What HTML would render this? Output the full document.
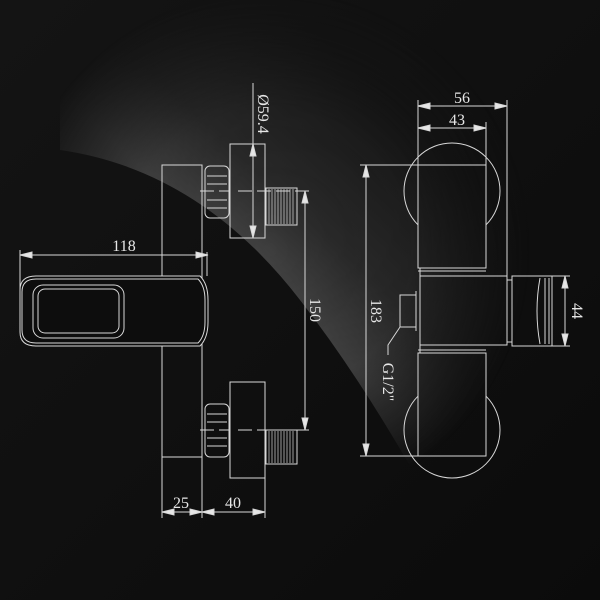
<!DOCTYPE html>
<html><head><meta charset="utf-8"><style>
html,body{margin:0;padding:0;background:#0d0d0d;}
svg{display:block}
text{font-family:"Liberation Serif",serif;fill:#e6e6e6;font-size:16px}
</style></head><body>
<svg width="600" height="600" viewBox="0 0 600 600" xmlns="http://www.w3.org/2000/svg">
<defs>
<linearGradient id="hl" x1="250" y1="270" x2="400" y2="110" gradientUnits="userSpaceOnUse">
<stop offset="0" stop-color="#484848"/>
<stop offset="0.35" stop-color="#2c2c2c"/>
<stop offset="1" stop-color="#171717"/>
</linearGradient>
<radialGradient id="fade" cx="270" cy="250" r="260" gradientUnits="userSpaceOnUse">
<stop offset="0" stop-color="white"/>
<stop offset="0.55" stop-color="white" stop-opacity="0.8"/>
<stop offset="1" stop-color="white" stop-opacity="0"/>
</radialGradient>
<mask id="fm"><rect width="600" height="600" fill="url(#fade)"/></mask>
<linearGradient id="bg" x1="0" y1="0" x2="1" y2="1">
<stop offset="0" stop-color="#141414"/><stop offset="1" stop-color="#0b0b0b"/>
</linearGradient>
<mask id="mtop"><rect width="600" height="600" fill="white"/><rect x="418" y="165" width="68" height="103" fill="black"/></mask>
<mask id="mbot"><rect width="600" height="600" fill="white"/><rect x="418" y="353" width="68" height="103" fill="black"/></mask>
</defs>
<rect width="600" height="600" fill="url(#bg)"/>
<path d="M60 150 Q200 170 300 300 Q370 390 440 520 L600 520 L600 0 L60 0 Z" fill="url(#hl)" mask="url(#fm)"/>
<g stroke="#d8d8d8" stroke-width="1" fill="none">
<rect x="162" y="165" width="40" height="292"/>
<path d="M20 290 Q20 276 36 276 L200 276 Q208 284 208 300 L208 322 Q208 338 200 346 L36 346 Q20 346 20 332 Z" fill="#0d0d0d"/>
<path d="M22 292 Q22 279 36 279 L198 279 Q205 286 205 300 L205 322 Q205 336 198 343 L36 343 Q22 343 22 330 Z"/>
<rect x="33" y="285" width="91" height="53" rx="10"/>
<rect x="38" y="289" width="81" height="44" rx="7"/>
<path d="M20 250 V300 M207 252 V276"/>
<line x1="20" y1="255" x2="208" y2="255"/>
<path d="M20 255 l12 -3 v6 z M208 255 l-12 -3 v6 z" fill="#e6e6e6"/>
<rect x="205" y="166" width="24" height="52" rx="5"/>
<path d="M207 176 H227 M207 184 H227 M207 200 H227 M207 208 H227"/>
<rect x="230" y="144" width="35" height="94"/>
<rect x="266" y="188" width="31" height="37"/>
<path d="M269 189 V224 M272 189 V224 M275 189 V224 M278 189 V224 M281 189 V224 M284 189 V224 M287 189 V224 M290 189 V224 M293 189 V224" stroke-width="0.7"/>
<path d="M200 191 H230 M238 191 H310" stroke-dasharray="14 5"/>
<line x1="253" y1="83" x2="253" y2="238"/>
<path d="M253 144 l-3 12 h6 z M253 238 l-3 -12 h6 z" fill="#e6e6e6"/>
<rect x="205" y="404" width="24" height="53" rx="5"/>
<path d="M207 414 H227 M207 422 H227 M207 438 H227 M207 446 H227"/>
<rect x="230" y="382" width="35" height="96"/>
<rect x="266" y="430" width="31" height="34"/>
<path d="M269 431 V463 M272 431 V463 M275 431 V463 M278 431 V463 M281 431 V463 M284 431 V463 M287 431 V463 M290 431 V463 M293 431 V463" stroke-width="0.7"/>
<path d="M200 430 H230 M238 430 H310" stroke-dasharray="14 5"/>
<line x1="305" y1="191" x2="305" y2="430"/>
<path d="M305 191 l-3 12 h6 z M305 430 l-3 -12 h6 z" fill="#e6e6e6"/>
<path d="M162 457 V518 M202 457 V518 M265 478 V518"/>
<line x1="162" y1="512" x2="265" y2="512"/>
<path d="M162 512 l12 -3 v6 z M202 512 l-12 -3 v6 z M202 512 l12 -3 v6 z M265 512 l-12 -3 v6 z" fill="#e6e6e6"/>
<circle cx="452" cy="191" r="48" mask="url(#mtop)"/>
<circle cx="452" cy="430" r="48" mask="url(#mbot)"/>
<rect x="418" y="165" width="68" height="103"/>
<rect x="418" y="353" width="68" height="103"/>
<path d="M420 268 V276 M420 345 V353 M418 271 H486 M418 350 H486"/>
<rect x="420" y="276" width="87" height="69"/>
<rect x="507" y="280" width="5" height="62"/>
<rect x="512" y="276" width="40" height="70"/>
<path d="M540 278 Q534 311 540 344 M545 278 V344 M549 278 V344"/>
<rect x="400" y="295" width="16" height="32"/>
<path d="M416 291 V331"/>
<path d="M400 327 L388 345 V355"/>
<path d="M418 100 V165 M507 100 V276 M486 122 V165"/>
<line x1="418" y1="106" x2="507" y2="106"/>
<line x1="418" y1="128" x2="486" y2="128"/>
<path d="M418 106 l12 -3 v6 z M507 106 l-12 -3 v6 z M418 128 l12 -3 v6 z M486 128 l-12 -3 v6 z" fill="#e6e6e6"/>
<path d="M360 165 H418 M360 456 H418"/>
<line x1="366" y1="165" x2="366" y2="456"/>
<path d="M366 165 l-3 12 h6 z M366 456 l-3 -12 h6 z" fill="#e6e6e6"/>
<path d="M552 276 H570 M552 346 H570"/>
<line x1="565" y1="276" x2="565" y2="346"/>
<path d="M565 276 l-3 12 h6 z M565 346 l-3 -12 h6 z" fill="#e6e6e6"/>
</g>
<g stroke="none">
<text x="124" y="251" text-anchor="middle">118</text>
<text x="181" y="508" text-anchor="middle">25</text>
<text x="233" y="508" text-anchor="middle">40</text>
<text x="462" y="103" text-anchor="middle">56</text>
<text x="457" y="125" text-anchor="middle">43</text>
<text transform="translate(258,114) rotate(90)" text-anchor="middle">Ø59.4</text>
<text transform="translate(310,310) rotate(90)" text-anchor="middle">150</text>
<text transform="translate(371,311) rotate(90)" text-anchor="middle">183</text>
<text transform="translate(572,311) rotate(90)" text-anchor="middle">44</text>
<text transform="translate(383,382) rotate(90)" text-anchor="middle">G1/2"</text>
</g>
</svg>
</body></html>
